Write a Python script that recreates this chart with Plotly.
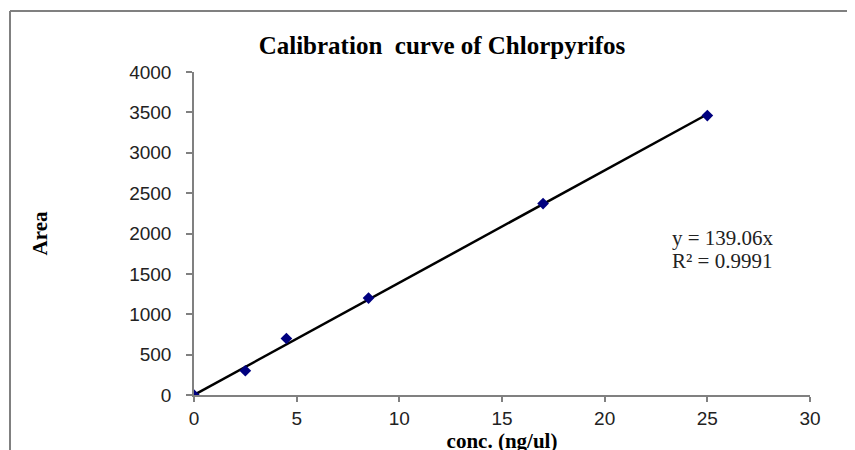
import plotly.graph_objects as go

conc = [0, 2.5, 4.5, 8.5, 17, 25]
area = [0, 300, 700, 1200, 2370, 3460]
slope = 139.06
fit_x = [0, 25]
fit_y = [slope * v for v in fit_x]
x_ticks = [0, 5, 10, 15, 20, 25, 30]
y_ticks = [0, 500, 1000, 1500, 2000, 2500, 3000, 3500, 4000]

# page has an 8px body margin; positions below are in figure pixels
OFF = 8
W, H = 855, 450
L, R, T, B = 194 - OFF, 855 - (810 - OFF), 72 - OFF, 450 - (395 - OFF)
pw, ph = W - L - R, H - T - B
y0px = 395 - OFF  # figure pixel of y=0

fig = go.Figure()
fig.add_trace(go.Scatter(x=fit_x, y=fit_y, mode="lines",
                         line=dict(color="black", width=2.5), showlegend=False))
fig.add_trace(go.Scatter(x=conc, y=area, mode="markers",
                         marker=dict(symbol="diamond", size=9, color="#00007f"),
                         showlegend=False))

serif = "Liberation Serif, Times New Roman, serif"
sans = "Liberation Sans, Arial, sans-serif"

fig.update_layout(
    width=W, height=H,
    margin=dict(l=L, r=R, t=T, b=B, autoexpand=False),
    paper_bgcolor="white", plot_bgcolor="white",
    title=dict(text="<b>Calibration  curve of Chlorpyrifos</b>",
               font=dict(family=serif, size=25, color="black"),
               x=(442 - OFF) / W, xanchor="center", y=1 - (45 - OFF) / H,
               yanchor="middle", automargin=False),
    xaxis=dict(range=[0, 30], tickvals=x_ticks, showgrid=False, zeroline=False,
               automargin=False,
               showline=True, linecolor="#808080", linewidth=1.5,
               ticks="outside", ticklen=5, tickcolor="#808080", tickwidth=1.5,
               tickfont=dict(family=sans, size=19, color="#222"),
               title=dict(text="<b>conc. (ng/ul)</b>",
                          font=dict(family=serif, size=21, color="black"),
                          standoff=5)),
    yaxis=dict(range=[0, 4000], tickvals=y_ticks, showgrid=False, zeroline=False,
               automargin=False,
               showline=True, linecolor="#808080", linewidth=1.5,
               ticks="outside", ticklen=6, tickcolor="#808080", tickwidth=1.5,
               ticklabelstandoff=11,
               tickfont=dict(family=sans, size=19, color="#222"),
               title=dict(text="<b>Area</b>",
                          font=dict(family=serif, size=21, color="black"),
                          standoff=76)),
)

eq_lines = ["y = 139.06x", "R² = 0.9991"]
eq_centers = [238, 261]  # reference pixel rows
for txt, cy in zip(eq_lines, eq_centers):
    fig.add_annotation(xref="paper", yref="paper",
                       x=(670 - OFF - L) / pw, y=(y0px - (cy - OFF)) / ph,
                       xanchor="left", yanchor="middle", showarrow=False,
                       text=txt, font=dict(family=serif, size=21, color="#222"))

# outer chart-area border (left and top edges visible)
bx = (10 - OFF - L) / pw
by = (y0px - (11 - OFF)) / ph
fig.add_shape(type="line", xref="paper", yref="paper", x0=bx, x1=(W + 5 - L) / pw,
              y0=by, y1=by, line=dict(color="#808080", width=2))
fig.add_shape(type="line", xref="paper", yref="paper", x0=bx, x1=bx,
              y0=by, y1=(y0px - H - 5) / ph, line=dict(color="#808080", width=2))

fig.write_html("out.html")
